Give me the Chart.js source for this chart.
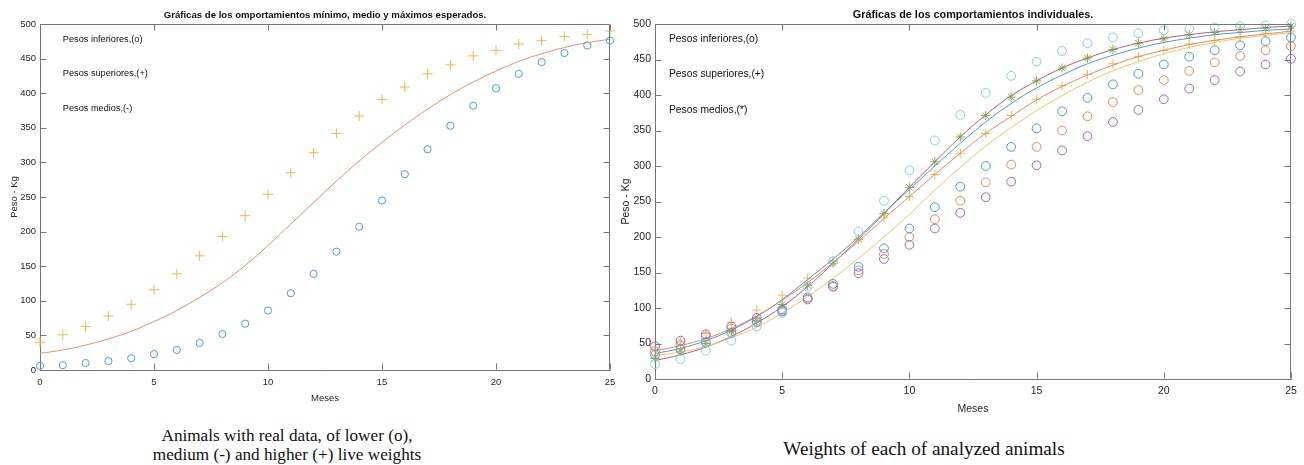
<!DOCTYPE html>
<html>
<head>
<meta charset="utf-8">
<script src="https://cdn.jsdelivr.net/npm/chart.js@4.4.0/dist/chart.umd.min.js"></script>
<style>
  body { margin: 0; width: 1304px; height: 465px; background: #fff; position: relative; overflow: hidden; }
  #izq { position: absolute; left: 0; top: 0; }
  #der { position: absolute; left: 612px; top: 0; }
  .pie { position: absolute; font-family: 'Liberation Serif', 'Times New Roman', serif; color: #111; text-align: center; white-space: nowrap; }
</style>
</head>
<body>
<canvas id="izq" width="625" height="404"></canvas>
<canvas id="der" width="692" height="415"></canvas>
<div class="pie" style="left:87px; top:427px; width:400px; font-size:17.2px; line-height:18.5px;">Animals with real data, of lower (o),<br>medium (-) and higher (+) live weights</div>
<div class="pie" style="left:724px; top:438px; width:400px; font-size:19.2px; line-height:21px;">Weights of each of analyzed animals</div>
<script>
// meses 0..25
const meses = [0,1,2,3,4,5,6,7,8,9,10,11,12,13,14,15,16,17,18,19,20,21,22,23,24,25];

// grafica izquierda: minimo, medio y maximo
const pesoInferior = [6,7,10,13,17,23,29,39,52,67,86,111,139,171,207,245,283,319,353,382,407,428,445,458,469,476];
const pesoSuperior = [40,51,63,78,95,116,139,165,193,223,254,285,314,342,367,391,409,428,441,454,462,471,476,482,485,490];
const pesoMedio = [24,29,36,45,56,70,86,105,126,151,180,211,242,273,302,329,354,377,398,416,432,446,457,466,473,478];

// grafica derecha: animales individuales
const circAzulClaro = [21,28,40,54,74,93,130,166,208,251,294,336,372,403,427,447,462,473,481,487,491,493,495,497,498,500];
const circAzul = [34,42,52,65,80,96,115,134,158,184,212,242,271,300,327,353,377,396,415,430,443,454,463,470,476,481];
const circNaranja = [39,48,60,71,82,95,113,131,153,176,200,225,251,277,302,327,350,370,390,407,421,434,446,455,463,469];
const circMorado = [46,54,63,74,86,98,112,130,149,169,189,212,234,256,278,301,322,342,362,379,394,409,421,433,443,451];
const cruces = [41,52,64,80,97,118,142,166,197,227,257,288,318,346,371,394,413,429,444,454,463,472,477,482,487,490];
const asteriscos = [29,39,50,67,82,105,132,163,197,233,270,306,341,371,397,420,438,452,464,473,479,485,488,492,494,497];
const lineaRoja = [26,34,45,60,79,102,130,163,197,233,270,306,341,372,399,420,438,452,464,473,480,485,489,492,495,497];
const lineaAzul = [36,43,54,69,88,112,140,169,200,234,267,300,332,362,388,410,428,444,456,466,474,480,485,488,491,493];
const lineaNaranja = [40,47,57,71,89,111,136,164,194,226,257,288,318,346,370,393,412,428,442,454,463,471,477,482,486,490];
const lineaAmarilla = [33,38,46,58,73,93,116,142,170,200,232,266,298,328,354,378,399,418,434,447,458,467,474,480,484,488];

const notasIzq = ['Pesos inferiores,(o)', 'Pesos superiores,(+)', 'Pesos medios,(-)'];
const notasDer = ['Pesos inferiores,(o)', 'Pesos superiores,(+)', 'Pesos medios,(*)'];

const FUENTE = "'Liberation Sans', Arial, sans-serif";

function puntos(vals){
    return vals.map((v, i) => ({x: meses[i], y: v}));
}

function marcas(vals, color, estilo, radio){
    return {
        data: puntos(vals),
        showLine: false,
        pointStyle: estilo,
        pointRadius: radio,
        pointBorderColor: color,
        pointBackgroundColor: 'rgba(0,0,0,0)',
        pointBorderWidth: 1,
        clip: false
    };
}

function linea(vals, color){
    return {
        data: puntos(vals),
        borderColor: color,
        borderWidth: 1,
        pointRadius: 0,
        tension: 0.4,
        fill: false
    };
}

// caja tipo matlab: lados superior/derecho y marcas hacia dentro
const cajaMatlab = {
    id: 'cajaMatlab',
    afterDraw(chart, args, opts){
        const {ctx, chartArea: a, scales: {x, y}} = chart;
        const len = opts.len;
        ctx.save();
        ctx.strokeStyle = opts.color;
        ctx.lineWidth = 1;
        ctx.beginPath();
        const t = Math.round(a.top) + 0.5, r = Math.round(a.right) - 0.5;
        const b = Math.round(a.bottom) - 0.5, l = Math.round(a.left) + 0.5;
        ctx.moveTo(l, t); ctx.lineTo(r, t); ctx.lineTo(r, b);
        x.ticks.forEach(tk => {
            const px = Math.round(x.getPixelForValue(tk.value)) + 0.5;
            ctx.moveTo(px, b); ctx.lineTo(px, b - len);
            ctx.moveTo(px, t); ctx.lineTo(px, t + len);
        });
        y.ticks.forEach(tk => {
            const py = Math.round(y.getPixelForValue(tk.value)) + 0.5;
            ctx.moveTo(l, py); ctx.lineTo(l + len, py);
            ctx.moveTo(r, py); ctx.lineTo(r - len, py);
        });
        ctx.stroke();
        ctx.restore();
    }
};

// textos dentro del area (como text() de matlab)
const notas = {
    id: 'notas',
    afterDatasetsDraw(chart, args, opts){
        const {ctx, scales: {x, y}} = chart;
        ctx.save();
        ctx.font = opts.size + 'px ' + FUENTE;
        ctx.fillStyle = '#111';
        ctx.textAlign = 'left';
        ctx.textBaseline = 'middle';
        opts.textos.forEach((txt, i) => {
            ctx.fillText(txt, x.getPixelForValue(opts.x), y.getPixelForValue(opts.ys[i]));
        });
        ctx.restore();
    }
};

function grafica(canvas, titulo, datasets, g){
    const fTick = {family: FUENTE, size: g.size, lineHeight: 1.2};
    return new Chart(canvas, {
        type: 'line',
        data: {datasets: datasets},
        plugins: [cajaMatlab, notas],
        options: {
            responsive: false,
            animation: false,
            events: [],
            layout: {padding: {left: 0, right: g.padRight, top: 0, bottom: 0}},
            plugins: {
                legend: {display: false},
                tooltip: {enabled: false},
                title: {
                    display: true,
                    text: titulo,
                    fullSize: false,
                    color: '#111',
                    font: {family: FUENTE, size: g.titSize, weight: 'bold', lineHeight: 1.2},
                    padding: {top: g.titleTop, bottom: g.titleBottom}
                },
                cajaMatlab: {color: '#777', len: 6},
                notas: {textos: g.notas, x: g.notaX, ys: [478, 429, 378], size: g.notaSize}
            },
            scales: {
                x: {
                    type: 'linear', min: 0, max: 25,
                    ticks: {stepSize: 5, padding: g.xPad, color: '#262626', font: fTick, maxRotation: 0},
                    grid: {display: false, drawTicks: false},
                    border: {display: true, color: '#777'},
                    title: {display: true, text: 'Meses', color: '#262626', font: fTick, padding: {top: 0, bottom: 0}},
                    afterFit(s){ s.height = g.xAlto; }
                },
                y: {
                    type: 'linear', min: 0, max: 500,
                    ticks: {stepSize: 50, padding: 4, color: '#262626', font: fTick},
                    grid: {display: false, drawTicks: false},
                    border: {display: true, color: '#777'},
                    title: {display: true, text: 'Peso - Kg', color: '#262626', font: fTick, padding: {top: g.yTitPad, bottom: 0}},
                    afterFit(s){ s.width = g.yAncho; }
                }
            }
        }
    });
}

grafica(document.getElementById('izq'),
    'Gráficas de los omportamientos mínimo, medio y máximos esperados.',
    [
        marcas(pesoInferior, '#4f9fd9', 'circle', 3.6),
        marcas(pesoSuperior, '#f2b84b', 'cross', 5),
        linea(pesoMedio, '#ec8d6b')
    ],
    {size: 9.5, titSize: 9.6, padRight: 15, titleTop: 9.2, titleBottom: 3.3, xAlto: 34, xPad: 6.3, yAncho: 40, yTitPad: 8.3,
     notas: notasIzq, notaX: 1, notaSize: 9.2});

grafica(document.getElementById('der'),
    'Gráficas de los comportamientos individuales.',
    [
        marcas(circAzulClaro, '#7fd0f0', 'circle', 4.4),
        marcas(circAzul, '#4a9ad6', 'circle', 4.4),
        marcas(circNaranja, '#e8875f', 'circle', 4.4),
        marcas(circMorado, '#a366b5', 'circle', 4.4),
        linea(lineaAmarilla, '#f4c55a'),
        linea(lineaNaranja, '#e8875f'),
        linea(lineaAzul, '#4a9ad6'),
        linea(lineaRoja, '#bf5a78'),
        marcas(cruces, '#f2b84b', 'cross', 4.6),
        marcas(asteriscos, '#7db543', 'star', 4.6)
    ],
    {size: 10.5, titSize: 10.85, padRight: 13, titleTop: 8.5, titleBottom: 2.5, xAlto: 36, xPad: 6.2, yAncho: 43, yTitPad: 7.7,
     notas: notasDer, notaX: 0.55, notaSize: 10.3});
</script>
</body>
</html>
